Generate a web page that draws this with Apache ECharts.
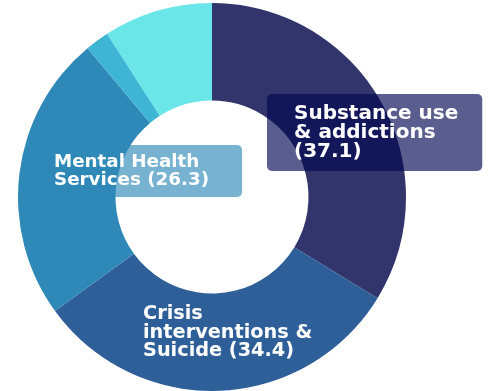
<!DOCTYPE html>
<html>
<head>
<meta charset="utf-8">
<script src="https://cdn.jsdelivr.net/npm/echarts@6/dist/echarts.min.js"></script>
<style>
html, body { margin: 0; padding: 0; background: #fff; }
#main { width: 489px; height: 391px; }
</style>
</head>
<body>
<div id="main"></div>
<script>
// slice names and values, clockwise from 12 o'clock
var names = ['Substance use\n& addictions\n(37.1)', 'Crisis\ninterventions &\nSuicide (34.4)', 'Mental Health\nServices (26.3)', 'Other', 'Other services']
var values = [37.1, 34.4, 26.3, 2.2, 10.0]
var colors = ['#31356b', '#2e5f98', '#2e89b8', '#3fb5d5', '#6ae5e8']

// label boxes for the three named slices (top-left corner and style)
var labelPos = [[267, 94], [143, 305], [48, 145]]
var labelStyles = [
  { backgroundColor: 'rgba(2, 8, 82, 0.65)', padding: [10, 24, 10, 27], lineHeight: 19, fontSize: 20 },
  { backgroundColor: null, padding: 0, lineHeight: 18.5, fontSize: 19.3 },
  { backgroundColor: 'rgba(46, 137, 184, 0.65)', padding: [8, 33, 8, 6], lineHeight: 18, fontSize: 18.3 }
]

var data = values.map(function (v, i) {
  return { name: names[i], value: v, itemStyle: { color: colors[i] } }
})

// labels drawn as text graphics so they can sit left-aligned in boxes
var labels = labelPos.map(function (p, i) {
  var s = labelStyles[i]
  return {
    type: 'text',
    x: p[0],
    y: p[1],
    z: 100,
    silent: true,
    style: {
      text: names[i],
      fill: '#ffffff',
      font: 'bold ' + s.fontSize + 'px "DejaVu Sans"',
      lineHeight: s.lineHeight,
      align: 'left',
      verticalAlign: 'top',
      backgroundColor: s.backgroundColor,
      padding: s.padding,
      borderRadius: 5
    }
  }
})

var myChart = echarts.init(document.getElementById('main'), null, { renderer: 'canvas' })
myChart.setOption({
  animation: false,
  series: [
    {
      type: 'pie',
      center: [212, 197],
      radius: [96.5, 194],
      startAngle: 90,
      clockwise: true,
      label: { show: false },
      labelLine: { show: false },
      emphasis: { disabled: true },
      data: data
    }
  ],
  graphic: labels
})
</script>
</body>
</html>
